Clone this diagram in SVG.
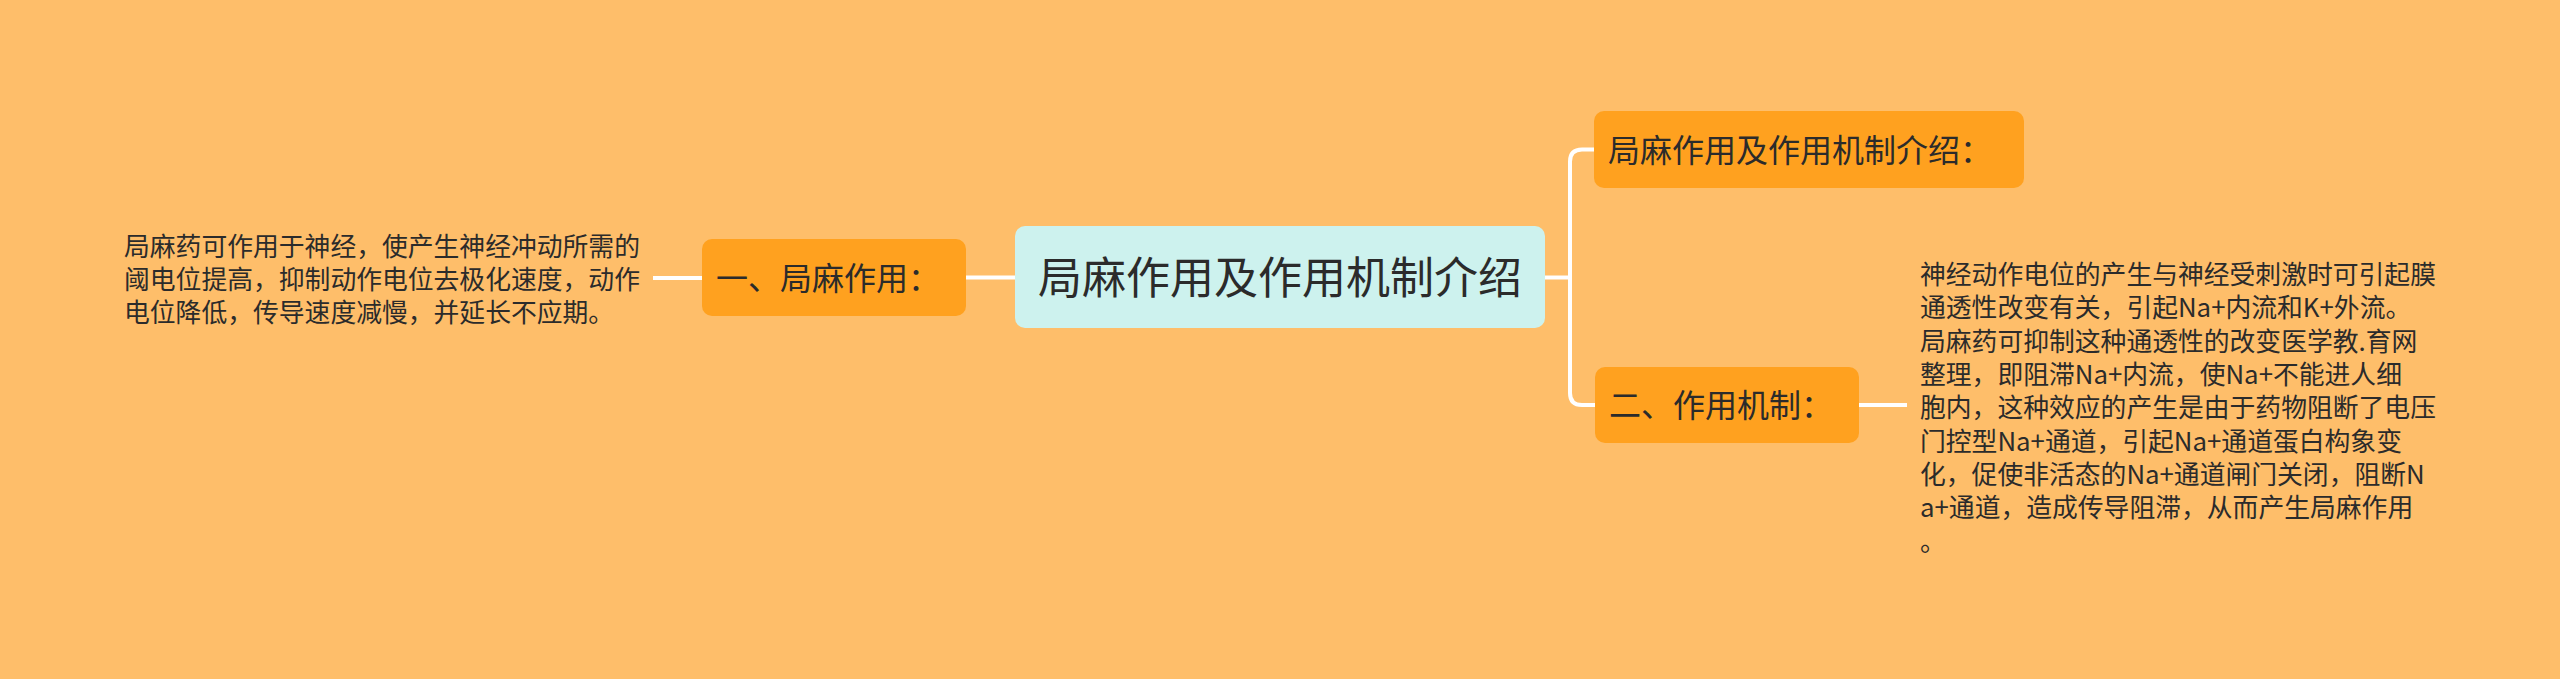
<svg xmlns="http://www.w3.org/2000/svg" width="2560" height="679" viewBox="0 0 2560 679">
<style>
.bg{fill:#FEBE6A}
.node{fill:#FFA11F}
.root{fill:#CDF2EE}
.t{font-family:"Noto Sans CJK SC","Noto Sans",sans-serif;fill:#2B2B2B}
.nt{font-size:32px}
.rt{font-size:44px}
.body{font-size:25.8px}
.conn{fill:none;stroke:#FFFFFF;stroke-width:4}
</style>
<rect class="bg" x="0" y="0" width="2560" height="679"/>
<g id="connectors">
<path class="conn" d="M1545 277.5 H1570"/>
<path class="conn" d="M1594 149.5 H1582 Q1570 149.5 1570 161.5 V393 Q1570 405 1582 405 H1596"/>
<path class="conn" d="M1015 277.5 H966"/>
<path class="conn" d="M702 278 H653"/>
<path class="conn" d="M1859 405 H1907"/>
</g>
<g id="root">
<rect class="root" x="1015" y="226" width="530" height="102" rx="10"/>
<text class="t rt" x="1280" y="294" text-anchor="middle">局麻作用及作用机制介绍</text>
</g>
<g id="node-left">
<rect class="node" x="702" y="239" width="264" height="77" rx="10"/>
<text class="t nt" x="716" y="289.5">一、局麻作用：</text>
</g>
<g id="node-left-text">
<text class="t body"><tspan x="124" y="256">局麻药可作用于神经，使产生神经冲动所需的</tspan><tspan x="124" y="289">阈电位提高，抑制动作电位去极化速度，动作</tspan><tspan x="124" y="322">电位降低，传导速度减慢，并延长不应期。</tspan></text>
</g>
<g id="node-right-top">
<rect class="node" x="1594" y="111" width="430" height="77" rx="10"/>
<text class="t nt" x="1608" y="161.5">局麻作用及作用机制介绍：</text>
</g>
<g id="node-right-bottom">
<rect class="node" x="1595" y="367" width="264" height="76" rx="10"/>
<text class="t nt" x="1609" y="417">二、作用机制：</text>
</g>
<g id="node-right-text">
<text class="t body"><tspan x="1920" y="284">神经动作电位的产生与神经受刺激时可引起膜</tspan><tspan x="1920" y="317.3">通透性改变有关，引起Na+内流和K+外流。</tspan><tspan x="1920" y="350.6">局麻药可抑制这种通透性的改变医学教.育网</tspan><tspan x="1920" y="384">整理，即阻滞Na+内流，使Na+不能进人细</tspan><tspan x="1920" y="417.3">胞内，这种效应的产生是由于药物阻断了电压</tspan><tspan x="1920" y="450.6">门控型Na+通道，引起Na+通道蛋白构象变</tspan><tspan x="1920" y="484">化，促使非活态的Na+通道闸门关闭，阻断N</tspan><tspan x="1920" y="517.3">a+通道，造成传导阻滞，从而产生局麻作用</tspan><tspan x="1920" y="550.6">。</tspan></text>
</g>
</svg>
